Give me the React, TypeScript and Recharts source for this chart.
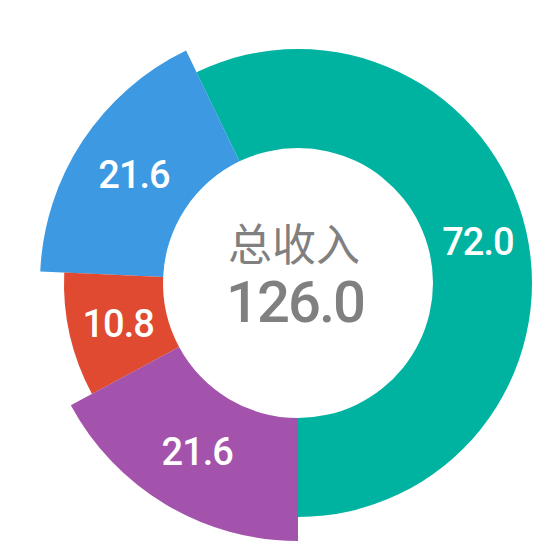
import React from 'react';
import { PieChart, Pie, Cell } from 'recharts';

const names = ['A', 'B', 'C', 'D'];
const values = [72.0, 21.6, 10.8, 21.6];
const colors = ['#00B3A1', '#3D99E2', '#E04A30', '#A453AC'];
const outerRadii = [234, 258, 234, 258];
const centerTitle = '总收入';
const centerValue = 126.0;

const data = names.map((name, i) => ({ name, value: values[i] }));

const RADIAN = Math.PI / 180;
const CX = 285;
const CY = 270;

// label only the slice that this pie layer actually paints
const makeLabel = (k: number) => (props: any) => {
  const { cx, cy, midAngle, innerRadius, outerRadius, index } = props;
  if (index !== k) return null;
  const r = (innerRadius + outerRadius) / 2;
  const x = cx + r * Math.cos(-midAngle * RADIAN);
  const y = cy + r * Math.sin(-midAngle * RADIAN);
  return (
    <text
      x={x}
      y={y}
      fill="#fff"
      textAnchor="middle"
      dominantBaseline="central"
      style={{ fontFamily: 'Roboto, sans-serif', fontSize: 38, fontWeight: 500, letterSpacing: -1 }}
    >
      {values[index].toFixed(1)}
    </text>
  );
};

export default function App() {
  return (
    <div style={{ position: 'relative', width: 534, height: 534 }}>
      <PieChart width={534} height={534}>
        {outerRadii.map((outer, k) => (
          <Pie
            key={k}
            data={data}
            dataKey="value"
            cx={CX}
            cy={CY}
            innerRadius={135}
            outerRadius={outer}
            startAngle={-90}
            endAngle={270}
            stroke="none"
            label={makeLabel(k)}
            labelLine={false}
            isAnimationActive={false}
          >
            {data.map((_, i) => (
              <Cell key={i} fill={i === k ? colors[i] : 'transparent'} />
            ))}
          </Pie>
        ))}
      </PieChart>
      <svg width={534} height={534} style={{ position: 'absolute', left: 0, top: 0, pointerEvents: 'none' }}>
        <text
          x={CX + 1}
          y={CY - 36}
          fill="#808080"
          textAnchor="middle"
          dominantBaseline="central"
          style={{ fontFamily: '"Noto Sans CJK SC", sans-serif', fontSize: 44 }}
        >
          {centerTitle}
        </text>
        <text
          x={CX + 2}
          y={CY + 24}
          fill="#808080"
          textAnchor="middle"
          dominantBaseline="central"
          style={{ fontFamily: 'Roboto, sans-serif', fontSize: 58, fontWeight: 500, letterSpacing: -2 }}
        >
          {centerValue.toFixed(1)}
        </text>
      </svg>
    </div>
  );
}
